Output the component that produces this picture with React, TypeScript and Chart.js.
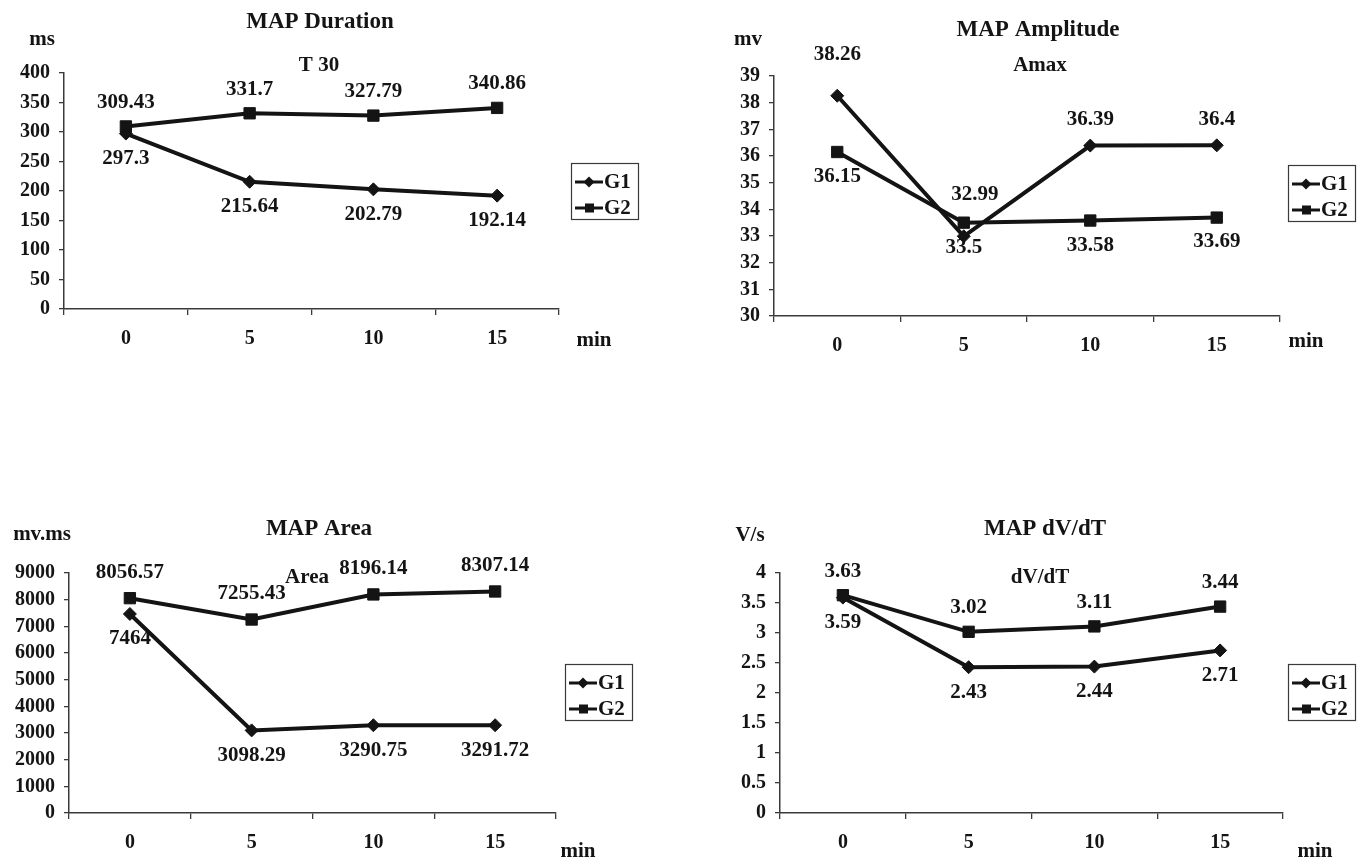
import React, { useEffect, useRef } from "react";
import { Chart, registerables } from "chart.js";

Chart.register(...registerables);

// ---------- data ----------
const MINUTES = ["0", "5", "10", "15"];
const GROUPS = ["G1", "G2"];

const DURATION_G1 = [297.3, 215.64, 202.79, 192.14];
const DURATION_G2 = [309.43, 331.7, 327.79, 340.86];

const AMPLITUDE_G1 = [38.26, 32.99, 36.39, 36.4];
const AMPLITUDE_G2 = [36.15, 33.5, 33.58, 33.69];

const AREA_G1 = [7464, 3098.29, 3290.75, 3291.72];
const AREA_G2 = [8056.57, 7255.43, 8196.14, 8307.14];

const DVDT_G1 = [3.59, 2.43, 2.44, 2.71];
const DVDT_G2 = [3.63, 3.02, 3.11, 3.44];

const DURATION_AXIS = { min: 0, max: 400, step: 50 };
const AMPLITUDE_AXIS = { min: 30, max: 39, step: 1 };
const AREA_AXIS = { min: 0, max: 9000, step: 1000 };
const DVDT_AXIS = { min: 0, max: 4, step: 0.5 };

// ---------- styling / layout ----------
const INK = "#141414";
const AXIS_INK = "#3a3a3a";
const FONT = '"Liberation Serif", "Times New Roman", serif';
const Y_AXIS_W = 64;
const X_AXIS_H = 40;

type Panel = {
  title: string;
  sub: string;
  unit: string;
  g1: number[];
  g2: number[];
  axis: { min: number; max: number; step: number };
  canvas: { x: number; y: number; w: number; h: number };
  area: { l: number; t: number; r: number; b: number };
  titlePos: [number, number];
  unitPos: [number, number];
  subPos: [number, number];
  minPos: [number, number];
  legend: { x: number; y: number; w: number; h: number };
  dy1: number[];
  dy2: number[];
  dx1: number[];
  dx2: number[];
};

const PANELS: Panel[] = [
  {
    title: "MAP Duration",
    sub: "T 30",
    unit: "ms",
    g1: DURATION_G1,
    g2: DURATION_G2,
    axis: DURATION_AXIS,
    canvas: { x: 0, y: 0, w: 680, h: 430 },
    area: { l: 64, t: 73, r: 559, b: 309 },
    titlePos: [320, 22],
    unitPos: [42, 40],
    subPos: [319, 66],
    minPos: [594, 341],
    legend: { x: 571, y: 163, w: 67, h: 56 },
    dy1: [25, 25, 25, 25],
    dy2: [-24, -24, -24, -24],
    dx1: [0, 0, 0, 0],
    dx2: [0, 0, 0, 0],
  },
  {
    title: "MAP Amplitude",
    sub: "Amax",
    unit: "mv",
    g1: AMPLITUDE_G1,
    g2: AMPLITUDE_G2,
    axis: AMPLITUDE_AXIS,
    canvas: { x: 680, y: 0, w: 680, h: 430 },
    area: { l: 774, t: 76, r: 1280, b: 316 },
    titlePos: [1038, 30],
    unitPos: [748, 40],
    subPos: [1040, 66],
    minPos: [1306, 342],
    legend: { x: 1288, y: 165, w: 67, h: 56 },
    dy1: [-41, -42, -26, -26],
    dy2: [25, 25, 25, 24],
    dx1: [0, 11, 0, 0],
    dx2: [0, 0, 0, 0],
  },
  {
    title: "MAP Area",
    sub: "Area",
    unit: "mv.ms",
    g1: AREA_G1,
    g2: AREA_G2,
    axis: AREA_AXIS,
    canvas: { x: 0, y: 430, w: 680, h: 431 },
    area: { l: 69, t: 573, r: 556, b: 813 },
    titlePos: [319, 529],
    unitPos: [42, 535],
    subPos: [307, 578],
    minPos: [578, 852],
    legend: { x: 565, y: 664, w: 67, h: 56 },
    dy1: [25, 25, 25, 25],
    dy2: [-26, -26, -26, -26],
    dx1: [0, 0, 0, 0],
    dx2: [0, 0, 0, 0],
  },
  {
    title: "MAP dV/dT",
    sub: "dV/dT",
    unit: "V/s",
    g1: DVDT_G1,
    g2: DVDT_G2,
    axis: DVDT_AXIS,
    canvas: { x: 680, y: 430, w: 680, h: 431 },
    area: { l: 780, t: 573, r: 1283, b: 813 },
    titlePos: [1045, 529],
    unitPos: [750, 536],
    subPos: [1040, 578],
    minPos: [1315, 852],
    legend: { x: 1288, y: 664, w: 67, h: 56 },
    dy1: [25, 25, 25, 25],
    dy2: [-24, -24, -24, -24],
    dx1: [0, 0, 0, 0],
    dx2: [0, 0, 0, 0],
  },
];

function drawDiamond(ctx: CanvasRenderingContext2D, x: number, y: number, r: number) {
  ctx.beginPath();
  ctx.moveTo(x, y - r);
  ctx.lineTo(x + r, y);
  ctx.lineTo(x, y + r);
  ctx.lineTo(x - r, y);
  ctx.closePath();
  ctx.fill();
}

function PanelChart({ p }: { p: Panel }) {
  const ref = useRef<HTMLCanvasElement>(null);

  useEffect(() => {
    const canvas = ref.current;
    if (!canvas) return;
    const ox = p.canvas.x;
    const oy = p.canvas.y;
    const W = p.canvas.w;
    const H = p.canvas.h;

    const deco = {
      id: "deco",
      afterDraw(chart: any) {
        const ctx: CanvasRenderingContext2D = chart.ctx;
        ctx.save();
        ctx.fillStyle = INK;
        ctx.textAlign = "center";
        ctx.textBaseline = "middle";

        ctx.font = `bold 23px ${FONT}`;
        ctx.fillText(p.title, p.titlePos[0] - ox, p.titlePos[1] - oy);

        ctx.font = `bold 21px ${FONT}`;
        ctx.fillText(p.unit, p.unitPos[0] - ox, p.unitPos[1] - oy);
        ctx.fillText(p.sub, p.subPos[0] - ox, p.subPos[1] - oy);
        ctx.fillText("min", p.minPos[0] - ox, p.minPos[1] - oy);

        // data labels, placed relative to each drawn point
        const dys = [p.dy1, p.dy2];
        const dxs = [p.dx1, p.dx2];
        chart.data.datasets.forEach((ds: any, i: number) => {
          const meta = chart.getDatasetMeta(i);
          meta.data.forEach((pt: any, j: number) => {
            ctx.fillText(String(ds.data[j]), pt.x + dxs[i][j], pt.y + dys[i][j]);
          });
        });

        // legend
        const L = p.legend;
        const lx = L.x - ox;
        const ly = L.y - oy;
        ctx.strokeStyle = AXIS_INK;
        ctx.lineWidth = 1.2;
        ctx.strokeRect(lx + 0.5, ly + 0.5, L.w, L.h);
        const rows = [ly + 19, ly + 45];
        GROUPS.forEach((g, i) => {
          const ry = rows[i];
          ctx.strokeStyle = INK;
          ctx.lineWidth = 3;
          ctx.beginPath();
          ctx.moveTo(lx + 4, ry);
          ctx.lineTo(lx + 32, ry);
          ctx.stroke();
          ctx.fillStyle = INK;
          if (i === 0) drawDiamond(ctx, lx + 18, ry, 5.5);
          else ctx.fillRect(lx + 14, ry - 4.5, 9, 9);
          ctx.font = `bold 21px ${FONT}`;
          ctx.textAlign = "left";
          ctx.fillText(g, lx + 33, ry + 1);
        });
        ctx.restore();
      },
    };

    const tickFont = { family: FONT, size: 20, weight: "bold" as const };

    const chart = new Chart(canvas, {
      type: "line",
      data: {
        labels: MINUTES,
        datasets: [
          {
            label: GROUPS[0],
            data: p.g1,
            borderColor: INK,
            backgroundColor: INK,
            borderWidth: 4,
            pointStyle: "rectRot",
            pointRadius: 6.5,
            pointBackgroundColor: INK,
            pointBorderColor: INK,
            pointBorderWidth: 1,
            tension: 0,
            fill: false,
          },
          {
            label: GROUPS[1],
            data: p.g2,
            borderColor: INK,
            backgroundColor: INK,
            borderWidth: 4,
            pointStyle: "rect",
            pointRadius: 8,
            pointBackgroundColor: INK,
            pointBorderColor: INK,
            pointBorderWidth: 1,
            tension: 0,
            fill: false,
          },
        ],
      },
      options: {
        animation: false,
        responsive: false,
        devicePixelRatio: 1,
        layout: {
          padding: {
            left: p.area.l - ox - Y_AXIS_W,
            top: p.area.t - oy,
            right: ox + W - p.area.r,
            bottom: oy + H - p.area.b - X_AXIS_H,
          },
        },
        plugins: {
          legend: { display: false },
          tooltip: { enabled: false },
          title: { display: false },
        },
        scales: {
          x: {
            type: "category",
            offset: true,
            grid: {
              offset: true,
              drawOnChartArea: false,
              drawTicks: true,
              tickLength: 6,
              color: AXIS_INK,
              lineWidth: 1.3,
            },
            border: { display: true, color: AXIS_INK, width: 1.5 },
            ticks: { font: tickFont, color: INK, padding: 12, maxRotation: 0, autoSkip: false },
            afterFit: (s: any) => {
              s.height = X_AXIS_H;
            },
          },
          y: {
            type: "linear",
            min: p.axis.min,
            max: p.axis.max,
            grid: {
              drawOnChartArea: false,
              drawTicks: true,
              tickLength: 5,
              color: AXIS_INK,
              lineWidth: 1.3,
            },
            border: { display: true, color: AXIS_INK, width: 1.5 },
            ticks: {
              stepSize: p.axis.step,
              autoSkip: false,
              font: tickFont,
              color: INK,
              padding: 9,
              callback: (v: any) => String(v),
            },
            afterFit: (s: any) => {
              s.width = Y_AXIS_W;
            },
          },
        },
      },
      plugins: [deco],
    } as any);

    return () => chart.destroy();
  }, [p]);

  return (
    <canvas
      ref={ref}
      width={p.canvas.w}
      height={p.canvas.h}
      style={{
        position: "absolute",
        left: p.canvas.x,
        top: p.canvas.y,
        width: p.canvas.w,
        height: p.canvas.h,
      }}
    />
  );
}

export default function App() {
  return (
    <div
      style={{
        position: "absolute",
        left: 0,
        top: 0,
        width: 1360,
        height: 861,
        background: "#ffffff",
        overflow: "hidden",
      }}
    >
      {PANELS.map((p) => (
        <PanelChart key={p.title} p={p} />
      ))}
    </div>
  );
}
